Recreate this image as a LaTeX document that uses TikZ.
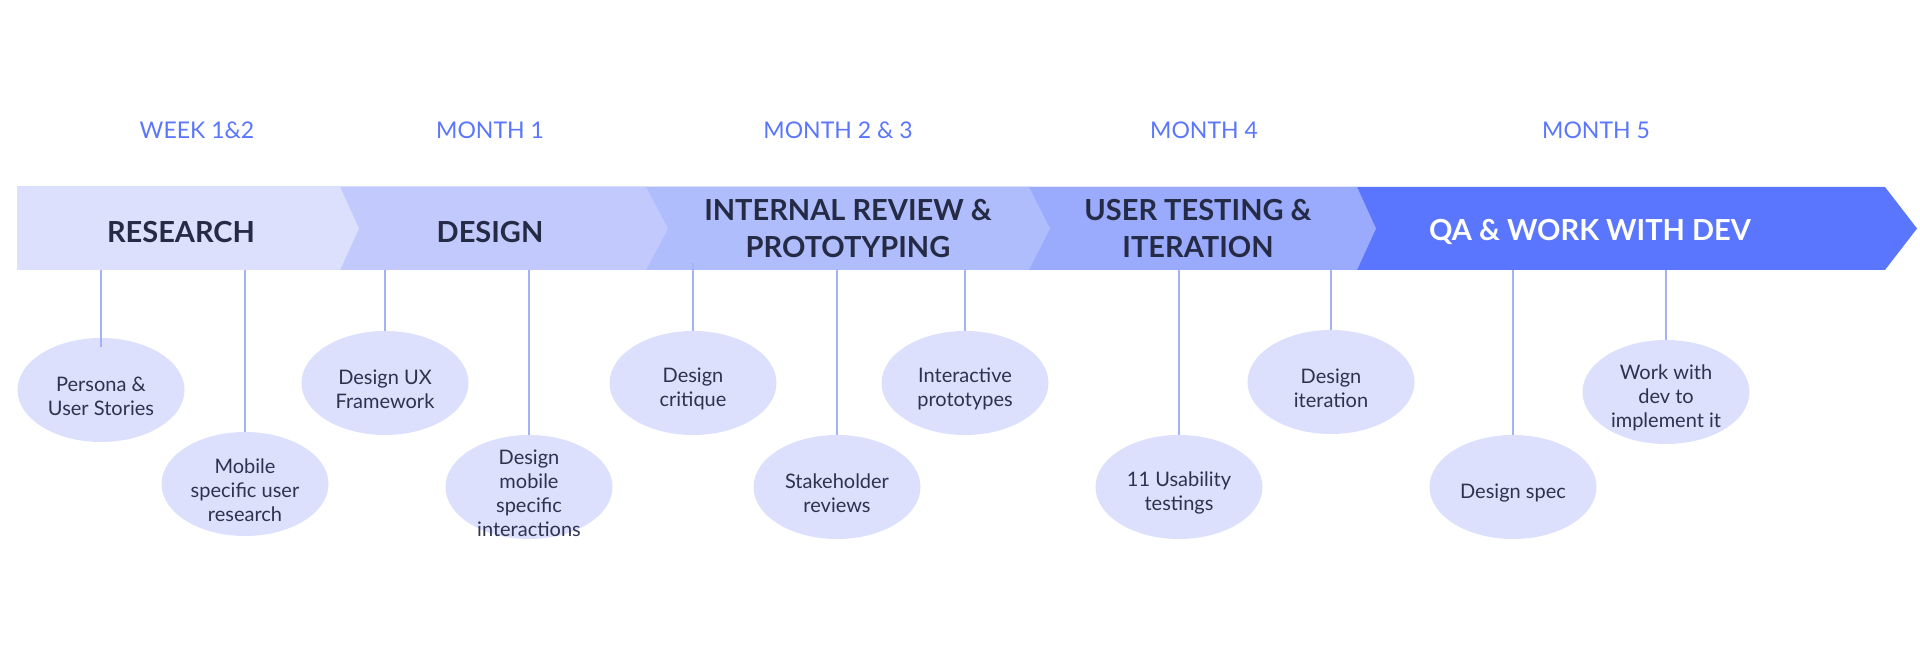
\documentclass[tikz,border=0pt]{standalone}
\usepackage{fontspec}
\setmainfont{Lato}
\usetikzlibrary{positioning,shapes.geometric,calc}
\usepackage{xcolor}
\definecolor{phaseA}{RGB}{220,224,253}
\definecolor{phaseB}{RGB}{194,202,253}
\definecolor{phaseC}{RGB}{176,189,253}
\definecolor{phaseD}{RGB}{154,170,252}
\definecolor{phaseE}{RGB}{91,118,254}
\definecolor{navy}{RGB}{37,43,69}
\definecolor{inktext}{RGB}{46,50,78}
\definecolor{stemblue}{RGB}{165,178,250}

\begin{document}
\begin{tikzpicture}[x=0.5pt,y=-0.5pt,
  period/.style={font=\fontsize{11.5}{14}\selectfont, text=phaseE},
  phase/.style={font=\fontsize{14.5}{18.5}\selectfont\bfseries, text=navy, align=center},
  bubbletext/.style={align=center, font=\fontsize{10}{12}\selectfont, text=inktext, yshift=-3pt},
  bubble/.style={ellipse, fill=phaseA, minimum width=83.5pt, minimum height=52pt,
    inner sep=0pt, label={[bubbletext]center:{#1}}},
  link/.style={draw=stemblue, line width=1pt}]
\useasboundingbox (0,0) rectangle (1920,656);

% time periods above the band
\node[period] (week)   at (197,130)  {WEEK 1\&2};
\node[period] (month1) at (490,130)  {MONTH 1};
\node[period] (month2) at (838,130)  {MONTH 2 \& 3};
\node[period] (month4) at (1204,130) {MONTH 4};
\node[period] (month5) at (1596,130) {MONTH 5};

% chevrons drawn back to front, each one covers the start of the next
\foreach \r/\t/\c in {1885/1917/phaseE, 1357/1376/phaseD, 1029/1050/phaseC,
                      646/668/phaseB, 340/359/phaseA}
  \fill[\c] (17,187) -- (\r,187) -- (\t,228.5) -- (\r,270) -- (17,270) -- cycle;
\coordinate (bandfoot) at (0,270);

\node[phase] (research) at (181,232)   {RESEARCH};
\node[phase] (design)   at (490,232)   {DESIGN};
\node[phase] (review)   at (848,229)   {INTERNAL REVIEW \&\\PROTOTYPING};
\node[phase] (testing)  at (1198,229)  {USER TESTING \&\\ITERATION};
\node[phase, text=white] (qa) at (1590,232) {QA \& WORK WITH DEV};

% activities, two rows hanging off the band
\node[bubble={Persona \&\\User Stories}]                 (persona)     at (101,390)  {};
\node[bubble={Mobile\\specific user\\research}]          (mobile)      at (245,484)  {};
\node[bubble={Design UX\\Framework}]                     (framework)   at (385,383)  {};
\node[bubble={Design\\mobile\\specific\\interactions}]   (interaction) at (529,487)  {};
\node[bubble={Design\\critique}]                         (critique)    at (693,383)  {};
\node[bubble={Stakeholder\\reviews}]                     (stakeholder) at (837,487)  {};
\node[bubble={Interactive\\prototypes}]                  (prototypes)  at (965,383)  {};
\node[bubble={11 Usability\\testings}]                   (usability)   at (1179,487) {};
\node[bubble={Design\\iteration}]                        (iteration)   at (1331,382) {};
\node[bubble={Design spec}]                              (spec)        at (1513,487) {};
\node[bubble={Work with\\dev to\\implement it}]          (devwork)     at (1666,392) {};

\draw[link, shorten <=-4.5pt] (persona.north) -- (persona.north |- bandfoot);
\foreach \n in {mobile,framework,interaction,stakeholder,prototypes,usability,iteration,spec,devwork}
  \draw[link] (\n.north) -- (\n.north |- bandfoot);
\draw[link, shorten >=-3.5pt] (critique.north) -- (critique.north |- bandfoot);
\end{tikzpicture}
\end{document}
